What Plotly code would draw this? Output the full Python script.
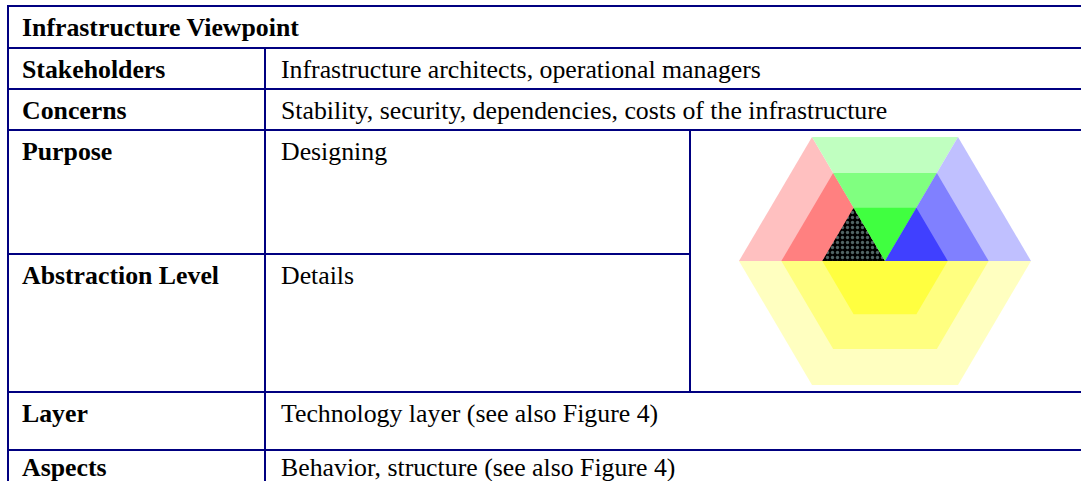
import plotly.graph_objects as go

# ---------------- data ----------------
title_text = "Infrastructure Viewpoint"
row_labels = ["Stakeholders", "Concerns", "Purpose", "Abstraction Level", "Layer", "Aspects"]
row_values = [
    "Infrastructure architects, operational managers",
    "Stability, security, dependencies, costs of the infrastructure",
    "Designing",
    "Details",
    "Technology layer (see also Figure 4)",
    "Behavior, structure (see also Figure 4)",
]
# hexagon nesting levels (outer -> inner) and colours per sector
hex_levels = [1.0, 0.71, 0.43]
red_colors = ["#FFC0C0", "#FF8080", "pattern"]
green_colors = ["#C0FFC0", "#80FF80", "#40FF40"]
blue_colors = ["#C0C0FF", "#8080FF", "#4040FF"]
yellow_colors = ["#FFFFC0", "#FFFF80", "#FFFF40"]

# ---------------- layout geometry ----------------
W, H = 1081, 481
LINE = "#000080"
FONT = "Liberation Serif"
FS = 25.8

x_left, x_col, x_img, x_right = 8, 265, 690, 1090
y_title, y_stake, y_conc, y_purp, y_abs, y_layer, y_asp, y_bottom = 6, 48, 89, 130, 254, 392, 450, 490
row_tops = [y_stake, y_conc, y_purp, y_abs, y_layer, y_asp]
text_offsets = [21.5, 21.5, 21.5, 21.5, 21.5, 17.5]

fig = go.Figure()

# hexagon
cx, cy, R, Hh = 885, 261, 146, 124


def add_poly(xs, ys, color):
    kw = dict(x=xs + [xs[0]], y=ys + [ys[0]], mode="lines", fill="toself",
              line=dict(width=0), hoverinfo="skip", showlegend=False)
    if color == "pattern":
        kw["fillcolor"] = "black"
        kw["fillpattern"] = dict(shape=".", bgcolor="black", fgcolor="#9FC8C8",
                                 size=5, solidity=0.35)
    else:
        kw["fillcolor"] = color
    fig.add_trace(go.Scatter(**kw))


for i, s in enumerate(hex_levels):
    # red (left)
    add_poly([cx - s * R, cx - s * R / 2, cx], [cy, cy - s * Hh, cy], red_colors[i])
    # green (top, inverted)
    add_poly([cx - s * R / 2, cx + s * R / 2, cx], [cy - s * Hh, cy - s * Hh, cy], green_colors[i])
    # blue (right)
    add_poly([cx, cx + s * R / 2, cx + s * R], [cy, cy - s * Hh, cy], blue_colors[i])
    # yellow (bottom half)
    add_poly([cx - s * R, cx + s * R, cx + s * R / 2, cx - s * R / 2],
             [cy, cy, cy + s * Hh, cy + s * Hh], yellow_colors[i])

# table lines
shapes = []


def hline(y, x0, x1):
    shapes.append(dict(type="line", xref="x", yref="y", x0=x0, x1=x1, y0=y, y1=y,
                       line=dict(color=LINE, width=2)))


def vline(x, y0, y1):
    shapes.append(dict(type="line", xref="x", yref="y", x0=x, x1=x, y0=y0, y1=y1,
                       line=dict(color=LINE, width=2)))


for y in [y_title, y_stake, y_conc, y_purp, y_layer, y_asp]:
    hline(y, x_left, x_right)
hline(y_abs, x_left, x_img)
vline(x_left, y_title - 1, y_bottom)
vline(x_col, y_stake, y_bottom)
vline(x_img, y_purp, y_layer)

# text
ann = []
ann.append(dict(x=x_left + 12, y=y_title + 21.5, text="<b>" + title_text + "</b>",
                xanchor="left", yanchor="middle", showarrow=False,
                font=dict(family=FONT, size=FS, color="black")))
for top, off, lab, val in zip(row_tops, text_offsets, row_labels, row_values):
    ann.append(dict(x=x_left + 12, y=top + off, text="<b>" + lab + "</b>",
                    xanchor="left", yanchor="middle", showarrow=False,
                    font=dict(family=FONT, size=FS, color="black")))
    ann.append(dict(x=x_col + 14, y=top + off, text=val,
                    xanchor="left", yanchor="middle", showarrow=False,
                    font=dict(family=FONT, size=FS, color="black")))

fig.update_layout(
    width=W, height=H,
    margin=dict(l=0, r=0, t=0, b=0),
    paper_bgcolor="white", plot_bgcolor="white",
    xaxis=dict(range=[0, W], visible=False, fixedrange=True),
    yaxis=dict(range=[H, 0], visible=False, fixedrange=True),
    shapes=shapes, annotations=ann,
)

fig.write_html(
    "out.html",
    config={"displayModeBar": False},
    post_script="document.body.style.margin='0';document.body.style.overflow='hidden';",
)
